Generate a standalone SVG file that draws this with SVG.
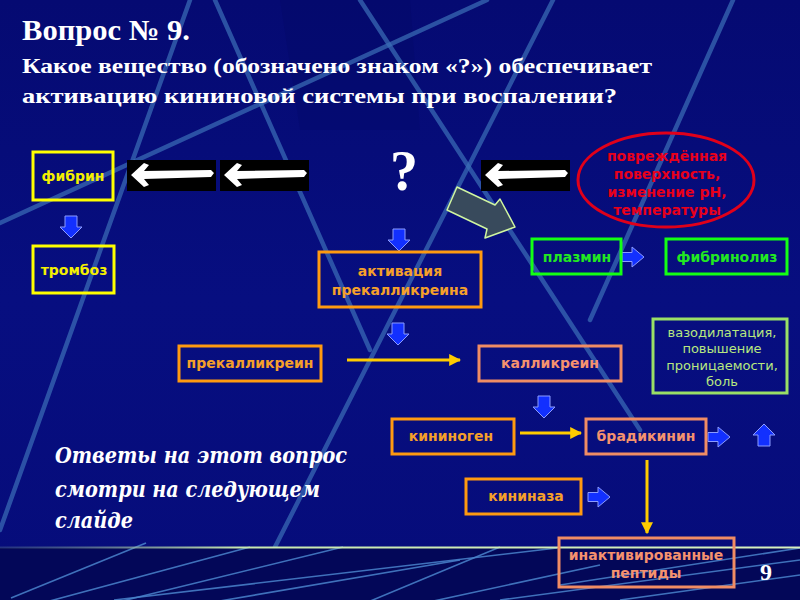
<svg xmlns="http://www.w3.org/2000/svg" xmlns:xlink="http://www.w3.org/1999/xlink" width="800" height="600" viewBox="0 0 800 600">
<defs>
<style>
.bgl{stroke:#3c6fb8;stroke-width:4.5;fill:none;opacity:0.7;stroke-linecap:round}
.bgt{stroke:#4a84cc;stroke-width:1.6;fill:none;opacity:0.85}
.ttl{font-family:"Liberation Serif","Times New Roman",serif;font-weight:bold;fill:#ffffff}
.ital{font-family:"DejaVu Serif","Liberation Serif",serif;font-weight:bold;font-style:italic;fill:#ffffff;font-size:22px}
.lbl{font-family:"DejaVu Sans",Verdana,sans-serif;font-weight:bold;font-size:14px;text-anchor:middle}
.box{fill:none;stroke-width:3}
.yel{stroke:#ffff00}.yelt{fill:#f4f000}
.org{stroke:#ff9a10}.orgt{fill:#f5a02a}
.sal{stroke:#f08c64}.salt{fill:#f5926e}
.grn{stroke:#14ff14}.grnt{fill:#22e822}
.lgr{stroke:#9ae066}
.lgrt{font-family:"DejaVu Sans",Verdana,sans-serif;font-size:13px;fill:#b8e880;text-anchor:middle}
.red{font-family:"DejaVu Sans",Verdana,sans-serif;font-weight:bold;font-size:14px;fill:#e8001a;text-anchor:middle}
.blu{fill:#1230ff;stroke:#8c9cff;stroke-width:1}
.yarr{stroke:#ffcc00;stroke-width:3;fill:none}
</style>
<linearGradient id="bg" x1="0" y1="0" x2="0" y2="1">
<stop offset="0" stop-color="#050a72"/>
<stop offset="0.5" stop-color="#070e80"/>
<stop offset="1" stop-color="#060c7a"/>
</linearGradient>
<linearGradient id="hl" x1="0" y1="0" x2="1" y2="0">
<stop offset="0" stop-color="#6a8a90" stop-opacity="0.3"/>
<stop offset="0.3" stop-color="#c8e8b0"/>
<stop offset="1" stop-color="#d8f0c0"/>
</linearGradient>
<filter id="soft" x="-5%" y="-20%" width="110%" height="140%"><feGaussianBlur stdDeviation="0.7"/></filter>
<marker id="ah" viewBox="0 0 10 10" refX="9" refY="5" markerWidth="4" markerHeight="4" orient="auto" markerUnits="strokeWidth">
<path d="M0,0 L10,5 L0,10 z" fill="#ffcc00"/>
</marker>
<g id="wimg">
<rect x="0" y="0" width="89" height="31" fill="#000000"/>
<polygon filter="url(#soft)" fill="#ffffff" points="4,15 17,3 22,5 17,11 84,10 87,13 84,17 17,19 22,25 17,27"/>
</g>
<path id="dA" d="M-6,0 H6 V11 H11 L0,22 L-11,11 H-6 Z"/>
<path id="rA" d="M0,-4.5 H10 V-10 L22,0 L10,10 V4.5 H0 Z"/>
</defs>

<!-- background -->
<rect x="0" y="0" width="800" height="600" fill="url(#bg)"/>
<polygon points="280,0 410,0 420,130 300,130" fill="#02045a" opacity="0.18"/>
<g id="bglines">
<line class="bgl" x1="0" y1="223" x2="487" y2="0"/>
<line class="bgl" x1="190" y1="0" x2="0" y2="530"/>
<line class="bgl" x1="215" y1="0" x2="370" y2="350" opacity="0.55"/>
<line class="bgl" x1="553" y1="0" x2="275" y2="547"/>
<line class="bgl" x1="360" y1="0" x2="640" y2="430"/>
<line class="bgl" x1="733" y1="0" x2="590" y2="320"/>
</g>
<rect x="0" y="548" width="800" height="52" fill="#030758"/>
<g id="bottomlines">
<line class="bgt" x1="11" y1="598" x2="146" y2="543"/>
<line class="bgt" x1="46" y1="602" x2="250" y2="547"/>
<line class="bgt" x1="118" y1="602" x2="343" y2="547"/>
<line class="bgt" x1="114" y1="600" x2="557" y2="548"/>
<line class="bgt" x1="214" y1="602" x2="460" y2="560"/>
<line class="bgt" x1="368" y1="602" x2="500" y2="547"/>
<line class="bgt" x1="429" y1="602" x2="600" y2="565"/>
<line class="bgt" x1="500" y1="600" x2="800" y2="560"/>
<line class="bgt" x1="620" y1="600" x2="800" y2="575"/>
<line class="bgt" x1="560" y1="585" x2="800" y2="548"/>
</g>
<rect x="0" y="546.5" width="800" height="2" fill="url(#hl)"/>

<!-- title -->
<g id="title">
<text class="ttl" x="22" y="40" font-size="29" textLength="168" lengthAdjust="spacingAndGlyphs">Вопрос № 9.</text>
<text class="ttl" x="22" y="73" font-size="22" textLength="630" lengthAdjust="spacingAndGlyphs">Какое вещество (обозначено знаком «?») обеспечивает</text>
<text class="ttl" x="22" y="103" font-size="22" textLength="595" lengthAdjust="spacingAndGlyphs">активацию  кининовой  системы при воспалении?</text>
</g>

<!-- connectors -->
<g id="connectors">
<use xlink:href="#wimg" transform="translate(127,160)"/>
<use xlink:href="#wimg" transform="translate(220,160)"/>
<use xlink:href="#wimg" transform="translate(481,160)"/>
<polygon points="457,187 495,205 500,199 515,227 485,238 487,229 447,210" fill="#384a5c" stroke="#d0f5a0" stroke-width="1.5" stroke-linejoin="round"/>
<use xlink:href="#dA" class="blu" transform="translate(71,216)"/>
<use xlink:href="#dA" class="blu" transform="translate(399,229)"/>
<use xlink:href="#dA" class="blu" transform="translate(398,323)"/>
<use xlink:href="#dA" class="blu" transform="translate(544,396)"/>
<use xlink:href="#rA" class="blu" transform="translate(622,257)"/>
<use xlink:href="#rA" class="blu" transform="translate(708,437)"/>
<use xlink:href="#rA" class="blu" transform="translate(588,497)"/>
<use xlink:href="#dA" class="blu" transform="translate(764,446) rotate(180)"/>
<line class="yarr" x1="347" y1="360" x2="460" y2="360" marker-end="url(#ah)"/>
<line class="yarr" x1="520" y1="433" x2="581" y2="433" marker-end="url(#ah)"/>
<line class="yarr" x1="647" y1="460" x2="647" y2="533" marker-end="url(#ah)"/>
</g>

<!-- question mark -->
<text id="qmark" class="ttl" x="404" y="190" font-size="56" text-anchor="middle">?</text>

<g id="fibrin"><rect class="box yel" x="33" y="152" width="80" height="48"/><text class="lbl yelt" x="73" y="181">фибрин</text></g>
<g id="tromboz"><rect class="box yel" x="33" y="246" width="81" height="47"/><text class="lbl yelt" x="74" y="275">тромбоз</text></g>
<g id="damage"><ellipse cx="666" cy="180" rx="88" ry="47" fill="none" stroke="#e0001a" stroke-width="3"/>
<text class="red" x="667" y="161">повреждённая</text>
<text class="red" x="667" y="179">поверхность,</text>
<text class="red" x="667" y="197">изменение pH,</text>
<text class="red" x="667" y="215">температуры</text></g>
<g id="plasmin"><rect class="box grn" x="532" y="239" width="89" height="35"/><text class="lbl grnt" x="577" y="262">плазмин</text></g>
<g id="fibrinolysis"><rect class="box grn" x="666" y="239" width="121" height="35"/><text class="lbl grnt" x="727" y="262">фибринолиз</text></g>
<g id="activation"><rect class="box org" x="319" y="252" width="162" height="55"/>
<text class="lbl orgt" x="400" y="276">активация</text><text class="lbl orgt" x="400" y="295">прекалликреина</text></g>
<g id="prekallikrein"><rect class="box org" x="179" y="346" width="142" height="35"/><text class="lbl orgt" x="250" y="368">прекалликреин</text></g>
<g id="kallikrein"><rect class="box sal" x="479" y="346" width="142" height="35"/><text class="lbl salt" x="550" y="368">калликреин</text></g>
<g id="effects"><rect class="box lgr" x="653" y="319" width="134" height="74"/>
<text class="lgrt" x="722" y="337">вазодилатация,</text>
<text class="lgrt" x="722" y="353">повышение</text>
<text class="lgrt" x="722" y="370">проницаемости,</text>
<text class="lgrt" x="722" y="386">боль</text></g>
<g id="kininogen"><rect class="box org" x="392" y="419" width="122" height="35"/><text class="lbl orgt" x="451" y="441">кининоген</text></g>
<g id="bradykinin"><rect class="box sal" x="586" y="419" width="120" height="35"/><text class="lbl salt" x="646" y="441">брадикинин</text></g>
<g id="kininase"><rect class="box org" x="466" y="479" width="115" height="35"/><text class="lbl orgt" x="526" y="501">кининаза</text></g>
<g id="inactivated"><rect class="box sal" x="559" y="538" width="175" height="49"/>
<text class="lbl salt" x="646" y="560">инактивированные</text><text class="lbl salt" x="646" y="578">пептиды</text></g>

<g id="note">
<text class="ital" x="55" y="463" textLength="292" lengthAdjust="spacingAndGlyphs">Ответы на этот вопрос</text>
<text class="ital" x="55" y="497" textLength="265" lengthAdjust="spacingAndGlyphs">смотри на следующем</text>
<text class="ital" x="55" y="528" textLength="78" lengthAdjust="spacingAndGlyphs">слайде</text>
</g>
<text id="pagenum" class="ttl" x="766" y="580" font-size="24" text-anchor="middle">9</text>
</svg>
